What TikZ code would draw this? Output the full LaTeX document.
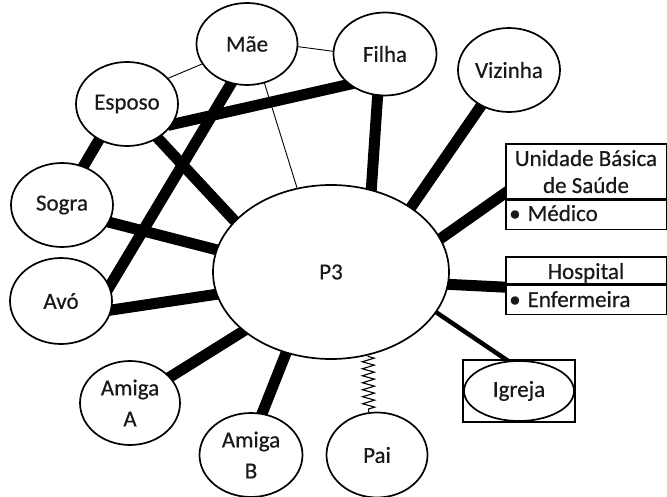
\documentclass[tikz,border=0pt]{standalone}
\usepackage{fontspec}
\setmainfont[FakeBold=0.5]{Carlito}
\usetikzlibrary{shapes.geometric,decorations.pathmorphing}
\pgfdeclarelayer{background}
\pgfsetlayers{background,main}
\begin{document}
\begin{tikzpicture}[x=1pt,y=-1pt,
  font=\fontsize{23}{31}\selectfont,
  every node/.style={text=black!90},
  person/.style={ellipse, draw=black, line width=1.7pt, fill=white, inner sep=0pt,
    minimum width=102pt, minimum height=84pt, align=center},
  cell/.style={rectangle, draw=black, line width=1.7pt, fill=white, inner sep=0pt,
    minimum width=161pt},
  tie/.style={line width=11pt, shorten <=-5pt, shorten >=-5pt},
  weaktie/.style={line width=0.9pt, shorten <=-2pt, shorten >=-2pt},
  midtie/.style={line width=4.5pt, shorten <=-3pt, shorten >=-3pt},
  spring/.style={line width=1.1pt, decorate,
    decoration={zigzag, segment length=7pt, amplitude=6pt, pre length=1pt, post length=2pt}}]
\useasboundingbox (0,0) rectangle (667,497);

% central person
\node[person, minimum width=236pt, minimum height=174pt] (p3) at (331,272) {P3};

% family and friends
\node[person, minimum width=101pt, minimum height=82pt] (mae) at (247,44) {Mãe};
\node[person, minimum width=103pt, minimum height=83pt] (filha) at (385,54) {Filha};
\node[person] (esposo) at (127,104) {Esposo};
\node[person] (sogra) at (62,205) {Sogra};
\node[person, minimum height=86pt] (avo) at (61,301) {Avó};
\node[person, minimum width=100pt] (amigaA) at (130,403) {Amiga\\A};
\node[person, minimum width=103pt] (amigaB) at (251,455) {Amiga\\B};
\node[person, minimum width=101pt, minimum height=85pt] (pai) at (377,455) {Pai};
\node[person] (vizinha) at (509,70) {Vizinha};

% institutions
\node[cell, minimum height=55pt, anchor=north west] (ubs) at (505,143) {};
\node[cell, minimum height=29pt, anchor=north west] (medico) at (ubs.south west) {};
\node[anchor=base] (ubsA) at (586,166) {Unidade Básica};
\node[anchor=base] (ubsB) at (586,193) {de Saúde};
\node[anchor=base west, inner sep=0pt] (medicoT) at (509,221) {•\hspace{7pt}Médico};

\node[cell, minimum height=27pt, anchor=north west] (hosp) at (505,256) {};
\node[cell, minimum height=29pt, anchor=north west] (enf) at (hosp.south west) {};
\node[anchor=base] (hospT) at (586,279) {Hospital};
\node[anchor=base west, inner sep=0pt] (enfT) at (509,307) {•\hspace{7pt}Enfermeira};

\node[cell, minimum width=112pt, minimum height=62pt] (igrejabox) at (519,391) {};
\node[person, minimum width=110pt, minimum height=60pt] (igreja) at (519,391) {Igreja};

% ties
\begin{pgfonlayer}{background}
  \draw[weaktie] (mae.-156) -- (esposo.32);
  \draw[weaktie] (mae.-3) -- (filha.177);
  \draw[weaktie] (mae.-66) -- (p3.112.5);
  \draw[tie] (esposo.-24.5) -- (filha.-140);
  \draw[tie] (mae.-112.5) -- (avo.17.7);
  \draw[tie] (esposo.-128) -- (sogra.61);
  \draw[tie] (esposo.-48.6) -- (p3.152);
  \draw[tie] (sogra.-20.6) -- (p3.169.4);
  \draw[tie] (avo.-10) -- (p3.191.2);
  \draw[tie] (filha.-100.5) -- (p3.64);
  \draw[tie] (vizinha.-128) -- (p3.39.4);
  \draw[tie] (ubs.195.6) -- (p3.17.4);
  \draw[tie] (enf.171) -- (p3.-6.2);
  \draw[tie] (amigaA.33.7) -- (p3.-146.6);
  \draw[tie] (amigaB.75.3) -- (p3.-119.4);
  \draw[midtie] (igrejabox.113) -- (p3.-21.1);
\end{pgfonlayer}
\draw[spring] (p3.-66.6) -- (pai.101.8);
\end{tikzpicture}
\end{document}
